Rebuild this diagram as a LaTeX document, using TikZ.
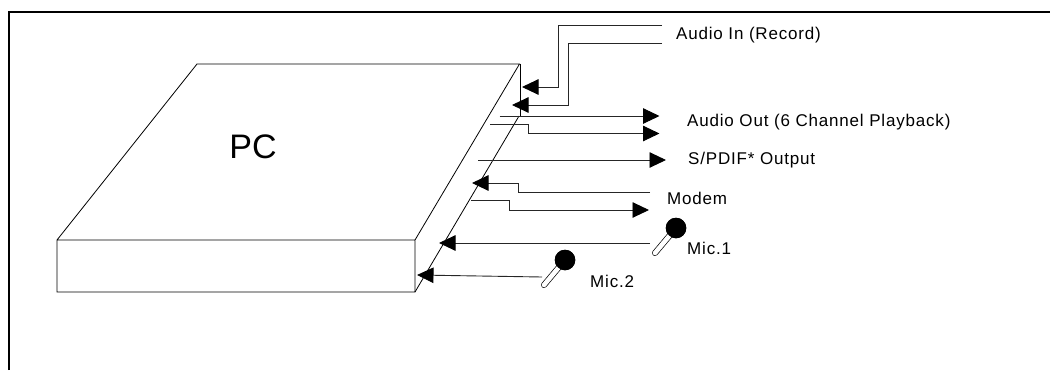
\documentclass[tikz,border=0pt]{standalone}
\usepackage{fontspec}
\setmainfont{Liberation Sans}
\newfontfamily\lblfont[LetterSpace=4.8]{Liberation Sans}
\usetikzlibrary{arrows.meta}
\tikzset{
  x=1pt,y=-1pt,
  wire/.style={line width=0.9pt,color=black!85,line join=miter},
  inwire/.style={wire,-{Triangle[length=16.5pt,width=15.5pt,color=black]}},
  outline/.style={line width=0.8pt,color=black,line join=miter},
  frameline/.style={line width=2pt,color=black},
  lbl/.style={anchor=west,inner sep=0pt,font=\lblfont\fontsize{17}{19}\selectfont},
  handle/.style={draw=black,line width=0.7pt,double=white,double distance=4.6pt,line cap=round},
  head/.style={circle,fill=black,draw=none,minimum size=20.5pt,inner sep=0pt},
}
\begin{document}
\begin{tikzpicture}
\useasboundingbox (0,0) rectangle (1050,370);
% frame
\coordinate (fa) at (9,370);
\coordinate (fb) at (9,12);
\coordinate (fc) at (1050,12);
\draw[frameline] (fa) -- (fb) -- (fc);
% PC box
\coordinate (tl) at (197,64);
\coordinate (tr) at (519.5,64);
\coordinate (fl) at (57,240);
\coordinate (fr) at (415,240);
\coordinate (bl) at (57,292);
\coordinate (br) at (415,292);
\coordinate (sr) at (520.5,116);
\coordinate (st) at (520.5,64);
\coordinate (sb) at (519,116);
\draw[outline] (fl) -- (tl) -- (tr) -- (fr) -- (fl) -- (bl) -- (br) -- (fr);
\draw[outline] (br) -- (sb);
\draw[outline] (st) -- (sr);
\node[inner sep=0pt,font=\fontsize{34}{38}\selectfont] (pc) at (253,147) {PC};
% labels
\node[lbl] (lin) at (676,35) {Audio In (Record)};
\node[lbl] (lout) at (687,122) {Audio Out (6 Channel Playback)};
\node[lbl] (lsp) at (688,160) {S/PDIF* Output};
\node[lbl] (lmod) at (667,198) {Modem};
\node[lbl] (lm1) at (687,248) {Mic.1};
\node[lbl] (lm2) at (590,281) {Mic.2};
% mics
\coordinate (m1e) at (655,253);
\node[head] (m1h) at (676,228) {};
\draw[handle] (m1e) -- (m1h.center);
\node[head] (m1t) at (676,228) {};
\coordinate (m2e) at (544,285);
\node[head] (m2h) at (565,260) {};
\draw[handle] (m2e) -- (m2h.center);
\node[head] (m2t) at (565,260) {};
% Audio in
\coordinate (a1s) at (662,25); \coordinate (a1c) at (558,25); \coordinate (a1d) at (558,87); \coordinate (a1t) at (522,87);
\draw[inwire] (a1s) -- (a1c) -- (a1d) -- (a1t);
\coordinate (a2s) at (662,43); \coordinate (a2c) at (568,43); \coordinate (a2d) at (568,105); \coordinate (a2t) at (512,105);
\draw[inwire] (a2s) -- (a2c) -- (a2d) -- (a2t);
% Audio out
\coordinate (o1s) at (499.5,116); \coordinate (o1t) at (659.5,116);
\draw[inwire] (o1s) -- (o1t);
\coordinate (o2s) at (490,124); \coordinate (o2c) at (528,124); \coordinate (o2d) at (528,133.5); \coordinate (o2t) at (659.5,133.5);
\draw[inwire] (o2s) -- (o2c) -- (o2d) -- (o2t);
% S/PDIF
\coordinate (ss) at (478,160); \coordinate (st2) at (666,160);
\draw[inwire] (ss) -- (st2);
% Modem
\coordinate (ms) at (650,192); \coordinate (mc) at (518,192); \coordinate (md) at (518,183); \coordinate (mt) at (472,183);
\draw[inwire] (ms) -- (mc) -- (md) -- (mt);
\coordinate (ns) at (471,200.5); \coordinate (nc) at (509,200.5); \coordinate (nd) at (509,210); \coordinate (nt) at (649,210);
\draw[inwire] (ns) -- (nc) -- (nd) -- (nt);
% Mic wires
\coordinate (w1s) at (650,243); \coordinate (w1t) at (439,243);
\draw[inwire] (w1s) -- (w1t);
\coordinate (w2s) at (542,277); \coordinate (w2t) at (417,275);
\draw[inwire] (w2s) -- (w2t);
\end{tikzpicture}
\end{document}
